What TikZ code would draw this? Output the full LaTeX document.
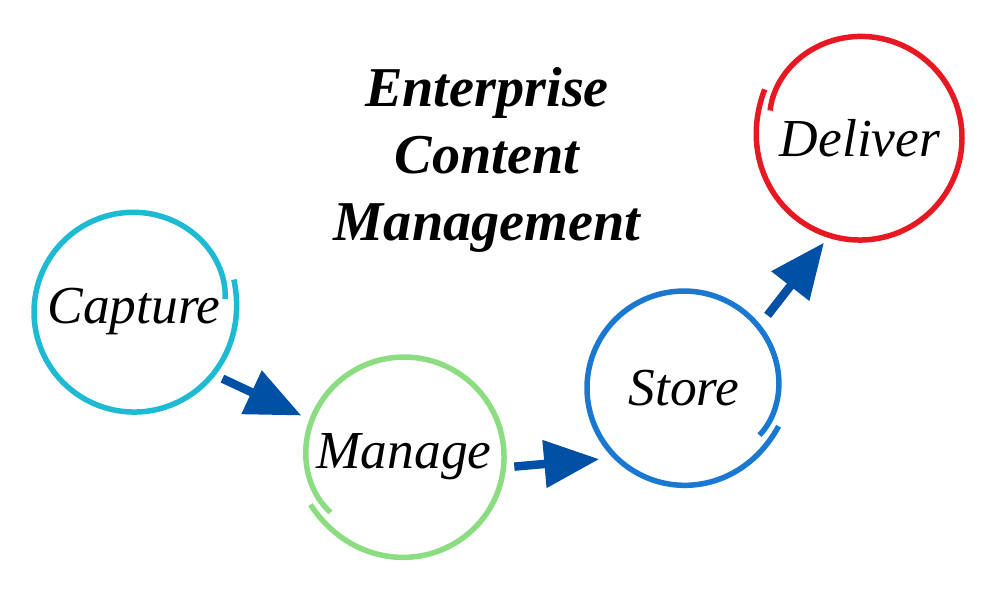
\documentclass[tikz,border=0pt]{standalone}
\usepackage{fontspec}
\setmainfont{Liberation Serif}
\usetikzlibrary{arrows.meta}

\definecolor{capcyan}{RGB}{30,185,210}
\definecolor{mangreen}{RGB}{140,220,130}
\definecolor{stoblue}{RGB}{25,120,210}
\definecolor{delred}{RGB}{230,25,35}
\definecolor{arrowblue}{RGB}{0,80,165}

\begin{document}
\begin{tikzpicture}[
    stage/.style={circle, minimum size=2.2cm, inner sep=0pt, font=\itshape\fontsize{15.2}{18}\selectfont},
    flow/.style={draw=arrowblue, line width=0.085cm, -{Triangle[length=0.55cm, width=0.46cm]}}
]
    \useasboundingbox (0,0) rectangle (10,5.96);
    \node[font=\bfseries\itshape\fontsize{16}{19}\selectfont, align=center] (title) at (4.87,4.36) {Enterprise\\Content\\Management};
    \node[stage] (cap) at (1.34,2.84) {Capture};
    \node[stage] (man) at (4.04,1.39) {Manage};
    \node[stage] (sto) at (6.84,2.08) {Store};
    \node[stage] (del) at (8.60,4.58) {Deliver};
    % hand drawn rings, ends overlapping
    \foreach \n/\c/\a/\s/\r in {cap/capcyan/18/-1/1.00, man/mangreen/207/1/1.00, sto/stoblue/-22/-1/0.97, del/delred/153/1/1.02} {
        \draw[\c, line width=0.055cm, shift={(\n.center)}] plot[domain=0:370, samples=120, smooth] ({\a+\s*\x}:{\r+0.05*exp(-\x/25)-0.08*exp((\x-370)/25)});
    }
    \draw[flow] (cap.-37) -- (man.158);
    \draw[flow] (man.-5) -- (sto.220);
    \draw[flow] (sto.41) -- (del.251);
\end{tikzpicture}
\end{document}
